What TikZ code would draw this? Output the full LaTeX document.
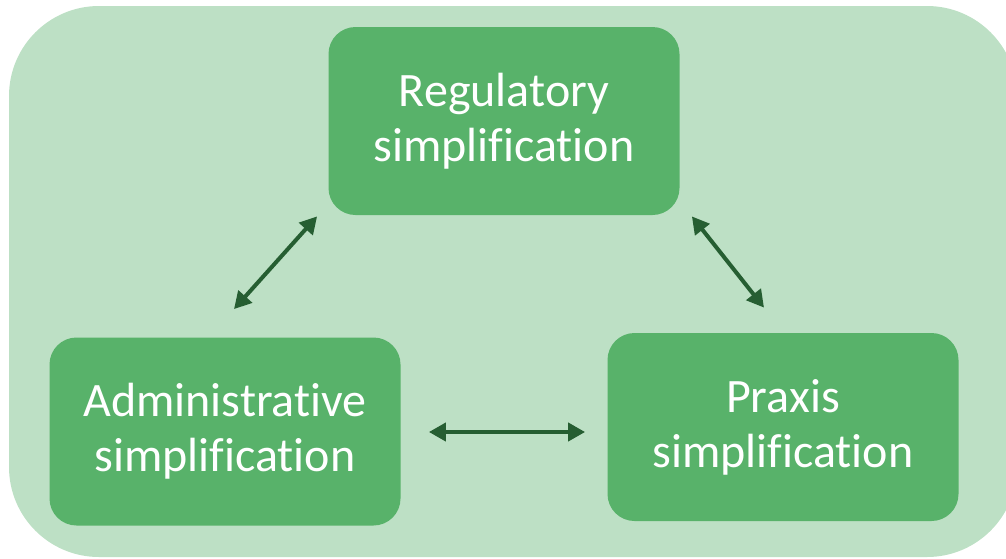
\documentclass[tikz,border=0pt]{standalone}
\usepackage{fontspec}
\setmainfont{Carlito}[Ligatures=NoCommon]
\usetikzlibrary{arrows.meta}
\definecolor{panelgreen}{RGB}{189,224,197}
\definecolor{boxgreen}{RGB}{88,178,106}
\definecolor{arrowgreen}{RGB}{38,94,50}
\tikzset{
  simp/.style={fill=boxgreen, rounded corners=13.5pt, minimum width=175.5pt,
    minimum height=94pt, inner sep=0pt, text=white, align=center,
    font=\fontsize{24}{27.5}\selectfont},
  link/.style={draw=arrowgreen, line width=2pt,
    {Triangle[length=8.5pt,width=9pt]}-{Triangle[length=8.5pt,width=9pt]}}
}
\begin{document}
\begin{tikzpicture}[x=0.5pt,y=-0.5pt]
\useasboundingbox (0,0) rectangle (1006,558);
\clip (0,0) rectangle (1006,558);
\fill[panelgreen, rounded corners=45pt] (9,6) rectangle (1017,557);
% the three boxes
\node[simp] (reg) at (504,121) {Regulatory\\simplification};
\node[simp] (adm) at (225,431.5) {Administrative\\simplification};
\node[simp] (prx) at (783,427) {Praxis\\simplification};
% arrow ends, kept clear of the boxes
\coordinate (regl) at ([shift={(-11,1)}]reg.south west);
\coordinate (regr) at ([shift={(12,1)}]reg.south east);
\coordinate (admt) at ([shift={(9,-28)}]adm.north);
\coordinate (adme) at ([shift={(28,0.5)}]adm.east);
\coordinate (prxt) at ([shift={(-19,-25)}]prx.north);
\coordinate (prxw) at ([shift={(-22,5)}]prx.west);
\draw[link] (admt) -- (regl);
\draw[link] (regr) -- (prxt);
\draw[link] (adme) -- (prxw);
\end{tikzpicture}
\end{document}
